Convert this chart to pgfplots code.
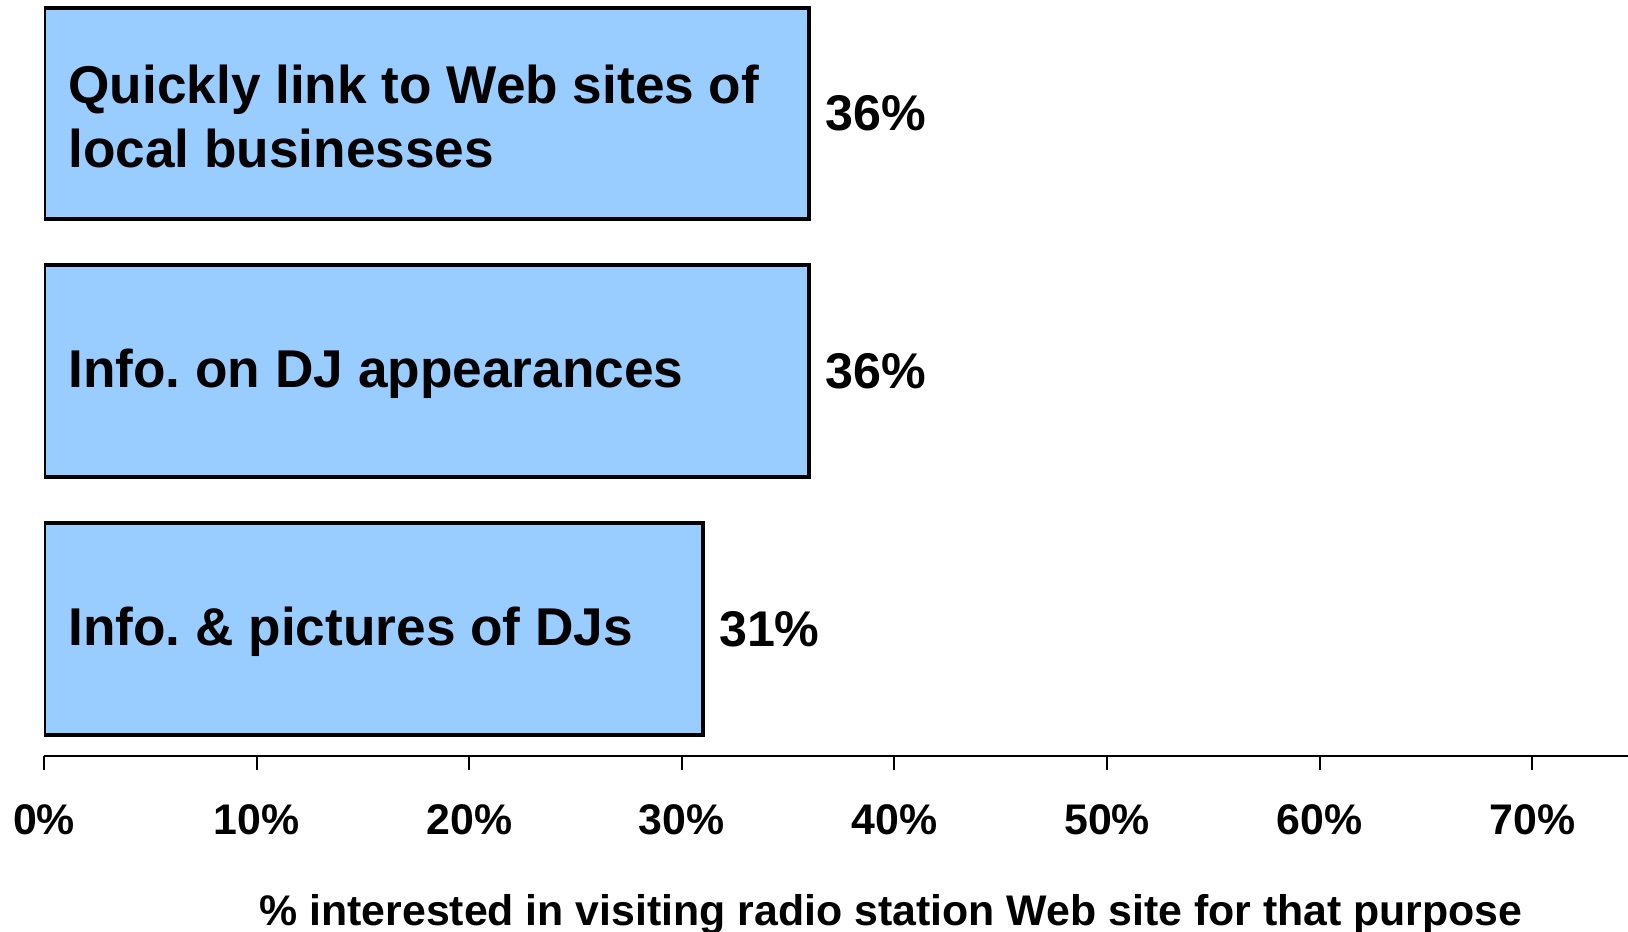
\documentclass[border=0pt]{standalone}
\usepackage{fontspec}
\setmainfont{Liberation Sans}
\usepackage{pgfplots}
\pgfplotsset{compat=1.18}
\definecolor{barblue}{RGB}{153,204,255}
\frenchspacing

\begin{document}
\begin{tikzpicture}
\begin{axis}[
    scale only axis,
    width=792bp, height=378bp,
    axis on top,
    xbar, bar width=0.82,
    xmin=0, xmax=74.5,
    ymin=0.507, ymax=3.44,
    axis x line=bottom,
    axis y line=left,
    x axis line style={-, line width=1bp},
    y axis line style={draw=none},
    xtick={0,10,...,70},
    xticklabel={\pgfmathprintnumber{\tick}\%},
    /pgf/number format/assume math mode=true,
    tick align=outside,
    x tick style={black, line width=1bp},
    major tick length=7bp,
    xticklabel style={font=\fontsize{21.5}{25}\selectfont\bfseries, anchor=base, inner sep=0pt, yshift=-32bp},
    ytick={1,2,3},
    y tick style={draw=none},
    yticklabels={Info. \& pictures of DJs, Info. on DJ appearances, {Quickly link to Web sites of\\local businesses}},
    yticklabel style={font=\fontsize{26.7}{32}\selectfont\bfseries, anchor=west, align=left, inner sep=0pt, xshift=19bp, yshift=-1.5bp},
    xlabel={\% interested in visiting radio station Web site for that purpose},
    xlabel style={font=\fontsize{21.5}{25}\selectfont\bfseries, at={(axis description cs:0.5347,0)}, anchor=base, inner sep=0pt, yshift=-84.5bp},
    nodes near coords={\pgfmathprintnumber{\pgfplotspointmeta}\%},
    nodes near coords style={font=\fontsize{25.2}{30}\selectfont\bfseries, anchor=west, inner sep=0pt, xshift=7bp},
    point meta=x,
]
\addplot[fill=barblue, draw=black, line width=2bp] coordinates {
    (31,1)
    (36,2)
    (36,3)
};
\end{axis}
\pgfresetboundingbox
\path (current axis.south west) ++(-22bp,-88bp) rectangle ++(814bp,466bp);
\end{tikzpicture}
\end{document}
